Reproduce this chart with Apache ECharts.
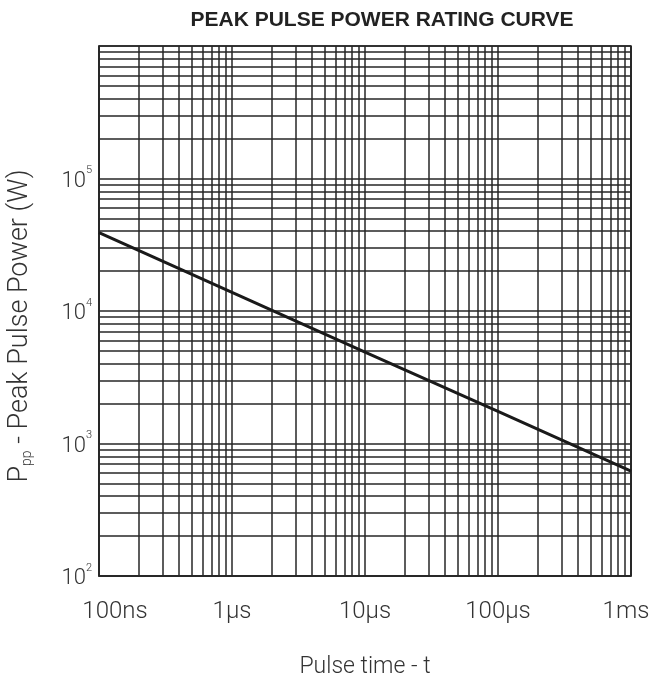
<!DOCTYPE html>
<html>
<head>
<meta charset="utf-8">
<script src="https://cdn.jsdelivr.net/npm/echarts@6/dist/echarts.min.js"></script>
<style>
  html, body { margin: 0; padding: 0; background: #fff; }
  #chart { width: 651px; height: 682px; }
</style>
</head>
<body>
<div id="chart"></div>
<script>
// pulse time (s) and peak pulse power (W)
const pulseTimes = [1e-7, 1e-6, 1e-5, 1e-4, 1e-3]
const peakPower = [39000, 13800, 4900, 1750, 620]

const xTickLabels = ['100ns', '1µs', '10µs', '100µs', '1ms']
const xDecades = [1e-7, 1e-6, 1e-5, 1e-4]
const yDecades = [1e2, 1e3, 1e4, 1e5]
const minorSteps = [2, 3, 4, 5, 6, 7, 8, 9]
const xRange = [1e-7, 1e-3]
const yRange = [1e2, 1e6]

const gridColor = '#262626'
const textColor = '#333'
const font = 'Roboto, "Liberation Sans", Arial, sans-serif'

// minor grid lines of the log-log paper
const minorLines = []
xDecades.forEach(d => minorSteps.forEach(m => {
  minorLines.push([{ coord: [d * m, yRange[0]] }, { coord: [d * m, yRange[1]] }])
}))
yDecades.forEach(d => minorSteps.forEach(m => {
  minorLines.push([{ coord: [xRange[0], d * m] }, { coord: [xRange[1], d * m] }])
}))

const chart = echarts.init(document.getElementById('chart'))

chart.setOption({
  animation: false,
  title: {
    text: 'PEAK PULSE POWER RATING CURVE',
    left: 377,
    textAlign: 'center',
    top: 5,
    textStyle: {
      fontFamily: '"Liberation Sans", Arial, sans-serif',
      fontWeight: 'bold',
      fontSize: 21,
      color: '#222'
    }
  },
  grid: {
    left: 99,
    right: 20,
    top: 46,
    bottom: 106,
    outerBoundsMode: 'none',
    containLabel: false,
    show: true,
    borderColor: gridColor,
    borderWidth: 1.5
  },
  xAxis: {
    type: 'log',
    logBase: 10,
    min: xRange[0],
    max: xRange[1],
    name: 'Pulse time - t',
    nameLocation: 'middle',
    nameGap: 80,
    nameTextStyle: { fontFamily: font, fontWeight: 300, fontSize: 23, color: textColor },
    axisLine: { lineStyle: { color: gridColor, width: 1.5 } },
    axisTick: { show: false },
    splitLine: { show: true, lineStyle: { color: gridColor, width: 1.5 } },
    axisLabel: {
      margin: 24,
      formatter: v => {
        const i = Math.round(Math.log10(v)) + 7
        if (i === 0) return '{first|' + xTickLabels[i] + '}'
        if (i === 4) return '{last|' + xTickLabels[i] + '}'
        return '{n|' + xTickLabels[i] + '}'
      },
      rich: {
        n: { fontFamily: font, fontWeight: 300, fontSize: 24, color: textColor },
        first: { fontFamily: font, fontWeight: 300, fontSize: 24, color: textColor, padding: [0, 0, 0, 32] },
        last: { fontFamily: font, fontWeight: 300, fontSize: 24, color: textColor, padding: [0, 10, 0, 0] }
      }
    }
  },
  yAxis: {
    type: 'log',
    logBase: 10,
    min: yRange[0],
    max: yRange[1],
    name: '{a|P}{s|pp}{a| - Peak Pulse Power (W)}',
    nameLocation: 'middle',
    nameRotate: 90,
    nameGap: 65,
    nameTextStyle: {
      padding: [0, 30, 0, 0],
      rich: {
        a: { fontFamily: font, fontWeight: 300, fontSize: 27, color: textColor, verticalAlign: 'bottom' },
        s: { fontFamily: font, fontWeight: 300, fontSize: 14, color: textColor, verticalAlign: 'bottom' }
      }
    },
    axisLine: { lineStyle: { color: gridColor, width: 1.5 } },
    axisTick: { show: false },
    splitLine: { show: true, lineStyle: { color: gridColor, width: 1.5 } },
    axisLabel: {
      margin: 7,
      formatter: v => {
        const e = Math.round(Math.log10(v))
        if (e >= 6) return ''
        return '{b|10}{s|' + e + '}'
      },
      rich: {
        b: { fontFamily: font, fontWeight: 300, fontSize: 22, color: textColor, verticalAlign: 'top', padding: [5, 0, 0, 0] },
        s: { fontFamily: font, fontWeight: 300, fontSize: 11, color: textColor, verticalAlign: 'top' }
      }
    }
  },
  series: [
    {
      type: 'line',
      data: pulseTimes.map((t, i) => [t, peakPower[i]]),
      showSymbol: false,
      lineStyle: { color: '#1a1a1a', width: 3 },
      markLine: {
        silent: true,
        symbol: 'none',
        label: { show: false },
        lineStyle: { color: gridColor, width: 1.5, type: 'solid' },
        data: minorLines
      },
      z: 5
    }
  ]
})
</script>
</body>
</html>
